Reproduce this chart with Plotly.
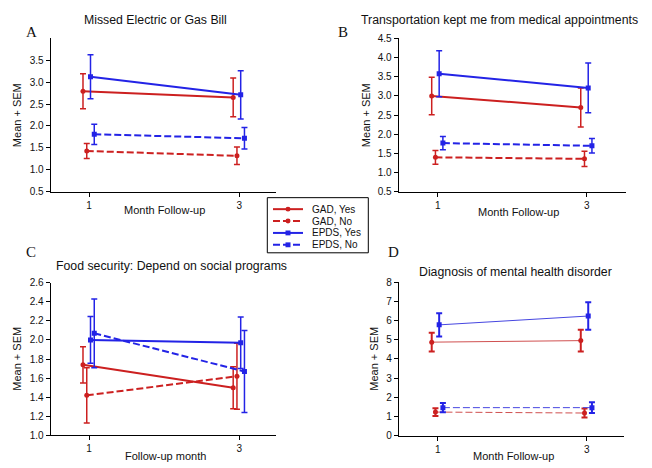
import plotly.graph_objects as go

# ---------------- data ----------------
months = [1, 3]
series_names = ["GAD, Yes", "GAD, No", "EPDS, Yes", "EPDS, No"]

# Panel A: Missed Electric or Gas Bill
a_gad_yes = [2.79, 2.65]; a_gad_yes_err = [0.40, 0.44]
a_gad_no = [1.43, 1.32]; a_gad_no_err = [0.17, 0.20]
a_epds_yes = [3.12, 2.71]; a_epds_yes_err = [0.50, 0.55]
a_epds_no = [1.81, 1.72]; a_epds_no_err = [0.23, 0.245]

# Panel B: Transportation kept me from medical appointments
b_gad_yes = [3.00, 2.70]; b_gad_yes_err = [0.49, 0.51]
b_gad_no = [1.40, 1.36]; b_gad_no_err = [0.18, 0.20]
b_epds_yes = [3.58, 3.21]; b_epds_yes_err = [0.60, 0.65]
b_epds_no = [1.77, 1.70]; b_epds_no_err = [0.17, 0.19]

# Panel C: Food security: Depend on social programs
c_gad_yes = [1.74, 1.50]; c_gad_yes_err = [0.19, 0.22]
c_gad_no = [1.42, 1.62]; c_gad_no_err = [0.29, 0.345]
c_epds_yes = [2.00, 1.97]; c_epds_yes_err = [0.245, 0.27]
c_epds_no = [2.07, 1.67]; c_epds_no_err = [0.36, 0.43]

# Panel D: Diagnosis of mental health disorder
d_gad_yes = [4.87, 4.95]; d_gad_yes_err = [0.49, 0.57]
d_gad_no = [1.23, 1.18]; d_gad_no_err = [0.20, 0.23]
d_epds_yes = [5.77, 6.23]; d_epds_yes_err = [0.61, 0.72]
d_epds_no = [1.46, 1.46]; d_epds_no_err = [0.24, 0.28]

panel_titles = ["Missed Electric or Gas Bill",
                "Transportation kept me from medical appointments",
                "Food security: Depend on social programs",
                "Diagnosis of mental health disorder"]
panel_letters = ["A", "B", "C", "D"]
x_titles = ["Month Follow-up", "Month Follow-up", "Follow-up month", "Month Follow-up"]
y_title = "Mean + SEM"

a_yticks = [0.5, 1.0, 1.5, 2.0, 2.5, 3.0, 3.5]
b_yticks = [0.5, 1.0, 1.5, 2.0, 2.5, 3.0, 3.5, 4.0, 4.5]
c_yticks = [1.0, 1.2, 1.4, 1.6, 1.8, 2.0, 2.2, 2.4, 2.6]
d_yticks = [0, 1, 2, 3, 4, 5, 6, 7, 8]

# ---------------- styles ----------------
W, H = 652, 468
RED = "#cc2020"
BLUE = "#2323e6"
DASH = "7px,3px"
styles = {
    "GAD, Yes": dict(color=RED, dash="solid", symbol="circle", dx=-0.08),
    "GAD, No": dict(color=RED, dash=DASH, symbol="circle", dx=-0.03),
    "EPDS, Yes": dict(color=BLUE, dash="solid", symbol="square", dx=0.02),
    "EPDS, No": dict(color=BLUE, dash=DASH, symbol="square", dx=0.07),
}

panels = [
    dict(vals=[a_gad_yes, a_gad_no, a_epds_yes, a_epds_no],
         errs=[a_gad_yes_err, a_gad_no_err, a_epds_yes_err, a_epds_no_err],
         px=(50.7, 276), py=(33, 190.7), xr=[0.49, 3.49], yr=[0.5, 4.0],
         yt=a_yticks, fmt=".1f", lw=2, pale=False),
    dict(vals=[b_gad_yes, b_gad_no, b_epds_yes, b_epds_no],
         errs=[b_gad_yes_err, b_gad_no_err, b_epds_yes_err, b_epds_no_err],
         px=(398.7, 626), py=(33.3, 190.7), xr=[0.477, 3.527], yr=[0.5, 4.5],
         yt=b_yticks, fmt=".1f", lw=2, pale=False),
    dict(vals=[c_gad_yes, c_gad_no, c_epds_yes, c_epds_no],
         errs=[c_gad_yes_err, c_gad_no_err, c_epds_yes_err, c_epds_no_err],
         px=(50.7, 276), py=(284, 440.7), xr=[0.49, 3.49], yr=[1.0, 2.6],
         yt=c_yticks, fmt=".1f", lw=2, pale=False),
    dict(vals=[d_gad_yes, d_gad_no, d_epds_yes, d_epds_no],
         errs=[d_gad_yes_err, d_gad_no_err, d_epds_yes_err, d_epds_no_err],
         px=(398.7, 624), py=(283.3, 441), xr=[0.477, 3.5], yr=[0, 8],
         yt=d_yticks, fmt="d", lw=1, pale=True),
]

fig = go.Figure()
FONT = "Liberation Sans, Arial, sans-serif"
annotations = []
shapes = []

for i, p in enumerate(panels):
    n = "" if i == 0 else str(i + 1)
    xa, ya = "x" + n, "y" + n
    for j, name in enumerate(series_names):
        st = styles[name]
        line_color = st["color"]
        if p["pale"]:
            line_color = "#d05050" if st["color"] == RED else "#4646e0"
        fig.add_trace(go.Scatter(
            x=[m + st["dx"] for m in months], y=p["vals"][j],
            mode="lines+markers", name=name, showlegend=False,
            xaxis=xa, yaxis=ya,
            line=dict(color=line_color, width=p["lw"], dash=st["dash"]),
            marker=dict(color=st["color"], symbol=st["symbol"], size=5),
            error_y=dict(type="data", array=p["errs"][j], visible=True,
                         color=st["color"], thickness=1.5 if not p["pale"] else 2,
                         width=3),
        ))
    x0, x1 = p["px"]
    y0, y1 = p["py"]
    common = dict(showline=True, linecolor="black", linewidth=1, ticks="outside",
                  ticklen=4, tickcolor="black", showgrid=False, zeroline=False,
                  tickfont=dict(family=FONT, size=10, color="#111"))
    fig.layout["xaxis" + n] = dict(domain=[x0 / W, x1 / W], range=p["xr"],
                                    tickvals=months, anchor=ya, **common)
    fig.layout["yaxis" + n] = dict(domain=[1 - y1 / H, 1 - y0 / H], range=p["yr"],
                                    tickvals=p["yt"], tickformat=p["fmt"],
                                    anchor=xa, **common)

# titles, letters, axis titles as annotations (pixel positions)
title_pos = [(155, 14), (499, 14), (172, 267), (515, 273)]
letter_pos = [(31, 27), (343, 27), (31, 252), (394, 252)]
xtitle_pos = [(164, 209), (518, 211), (165, 461.5), (513, 461.5)]
ytitle_pos = [(17, 112), (366, 112), (17, 362), (374, 362)]


def px2paper(x, y):
    return x / W, 1 - y / H


for k in range(4):
    tx, ty = px2paper(*title_pos[k])
    annotations.append(dict(x=tx, y=ty, xref="paper", yref="paper",
                            text=panel_titles[k], showarrow=False,
                            xanchor="center", yanchor="middle",
                            font=dict(family=FONT, size=12.3, color="#111")))
    lx, ly = px2paper(*letter_pos[k])
    annotations.append(dict(x=lx, y=ly, xref="paper", yref="paper",
                            text=panel_letters[k], showarrow=False,
                            xanchor="center", yanchor="middle",
                            font=dict(family="Liberation Serif, Times New Roman, serif",
                                      size=15, color="#111")))
    ax_, ay_ = px2paper(*xtitle_pos[k])
    annotations.append(dict(x=ax_, y=ay_, xref="paper", yref="paper",
                            text=x_titles[k], showarrow=False,
                            xanchor="center", yanchor="middle",
                            font=dict(family=FONT, size=11, color="#111")))
    yx, yy = px2paper(*ytitle_pos[k])
    annotations.append(dict(x=yx, y=yy, xref="paper", yref="paper",
                            text=y_title, showarrow=False, textangle=-90,
                            xanchor="center", yanchor="middle",
                            font=dict(family=FONT, size=11, color="#111")))

# ---- legend (drawn compactly, like the original's boxed key) ----
LEG_BOX = (267.3, 196.7, 368.3, 253.3)
LEG_ROW0, LEG_ROWSTEP = 208.5, 12.2
LEG_LINE = (273, 303)
LEG_TEXT_X = 311
bx0, by0 = px2paper(LEG_BOX[0], LEG_BOX[1])
bx1, by1 = px2paper(LEG_BOX[2], LEG_BOX[3])
shapes.append(dict(type="rect", xref="paper", yref="paper", x0=bx0, x1=bx1,
                   y0=by1, y1=by0, line=dict(color="black", width=1),
                   fillcolor="white", layer="above"))
for j, name in enumerate(series_names):
    st = styles[name]
    ry = LEG_ROW0 + j * LEG_ROWSTEP
    lx0, yy = px2paper(LEG_LINE[0], ry)
    lx1, _ = px2paper(LEG_LINE[1], ry)
    shapes.append(dict(type="line", xref="paper", yref="paper", x0=lx0, x1=lx1,
                       y0=yy, y1=yy, layer="above",
                       line=dict(color=st["color"], width=2, dash=st["dash"])))
    cx = (LEG_LINE[0] + LEG_LINE[1]) / 2
    mx0, my0 = px2paper(cx - 2.5, ry - 2.5)
    mx1, my1 = px2paper(cx + 2.5, ry + 2.5)
    shapes.append(dict(type="circle" if st["symbol"] == "circle" else "rect",
                       xref="paper", yref="paper", x0=mx0, x1=mx1, y0=my1, y1=my0,
                       fillcolor=st["color"], line=dict(width=0), layer="above"))
    tx, ty = px2paper(LEG_TEXT_X, ry)
    annotations.append(dict(x=tx, y=ty, xref="paper", yref="paper", text=name,
                            showarrow=False, xanchor="left", yanchor="middle",
                            borderpad=0,
                            font=dict(family=FONT, size=10, color="#111")))

fig.update_layout(
    width=W, height=H, margin=dict(l=0, r=0, t=0, b=0),
    paper_bgcolor="white", plot_bgcolor="white",
    annotations=annotations, shapes=shapes, showlegend=False,
)

fig.write_html("out.html", config={"displayModeBar": False},
               post_script="document.body.style.margin='0';document.body.style.padding='0';")
